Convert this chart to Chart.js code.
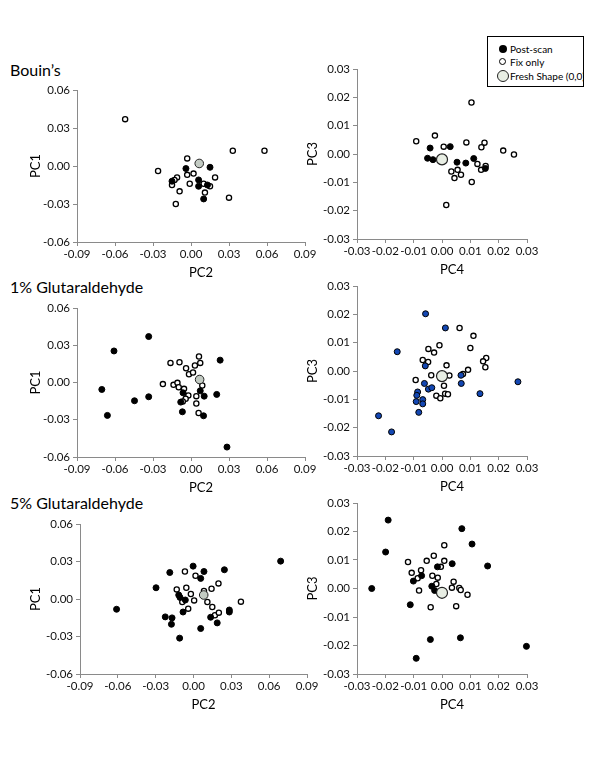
<!DOCTYPE html>
<html>
<head>
<meta charset="utf-8">
<script src="https://cdn.jsdelivr.net/npm/chart.js@4.4.0/dist/chart.umd.min.js"></script>
<style>
  body { margin: 0; background: #fff; width: 600px; height: 772px; position: relative; overflow: hidden; font-family: Lato, sans-serif; }
  canvas { position: absolute; }
  .title { position: absolute; left: 10px; font-size: 16px; line-height: 20px; color: #000; white-space: nowrap; }
  #legend { position: absolute; left: 487px; top: 36px; width: 95px; height: 49px; border: 1px solid #000; background: #fff; overflow: hidden; z-index: 5; font-size: 10px; }
  #legend .dot { position: absolute; border-radius: 50%; box-sizing: border-box; }
  #legend .txt { position: absolute; left: 22px; white-space: nowrap; line-height: 12px; color: #000; }
</style>
</head>
<body>
<div class="title" style="top:60px">Bouin’s</div>
<div class="title" style="top:277px">1% Glutaraldehyde</div>
<div class="title" style="top:493px">5% Glutaraldehyde</div>

<div id="legend">
  <div class="dot" style="left:11px; top:8px; width:8px; height:8px; background:#000;"></div>
  <div class="txt" style="top:6px">Post-scan</div>
  <div class="dot" style="left:11px; top:21px; width:7px; height:7px; background:#fff; border:1.3px solid #000;"></div>
  <div class="txt" style="top:19px">Fix only</div>
  <div class="dot" style="left:9px; top:33px; width:12px; height:12px; background:#e8eee4; border:1.2px solid #222;"></div>
  <div class="txt" style="top:33px">Fresh Shape (0,0)</div>
</div>

<canvas id="p1" width="323" height="209" style="left:2px; top:78px"></canvas>
<canvas id="p2" width="265" height="227" style="left:282px; top:57px"></canvas>
<canvas id="p3" width="323" height="206" style="left:2px; top:296px"></canvas>
<canvas id="p4" width="265" height="227" style="left:282px; top:274px"></canvas>
<canvas id="p5" width="322" height="207" style="left:5px; top:512px"></canvas>
<canvas id="p6" width="265" height="228" style="left:282px; top:491px"></canvas>

<script>
// tick labels
const ticksPC12 = [-0.09, -0.06, -0.03, 0, 0.03, 0.06, 0.09];
const ticksPC1 = [-0.06, -0.03, 0, 0.03, 0.06];
const ticksPC34 = [-0.03, -0.02, -0.01, 0, 0.01, 0.02, 0.03];

// Bouin's, PC2 (x) vs PC1 (y)
const bouinFix12 = [[-0.052,0.037],[0.033,0.012],[0.058,0.012],[-0.026,-0.004],[-0.003,0.006],[-0.003,-0.007],[0.002,-0.006],[0.019,-0.009],[-0.011,-0.009],[-0.013,-0.011],[-0.015,-0.015],[-0.001,-0.014],[-0.009,-0.020],[-0.012,-0.030],[0.010,-0.014],[0.011,-0.021],[0.015,-0.016],[0.030,-0.025]];
const bouinPost12 = [[-0.004,-0.002],[0.015,-0.001],[0.006,-0.011],[0.006,-0.016],[-0.015,-0.012],[0.010,-0.026],[0.013,-0.015]];
const bouinFresh12 = [[0.0065,0.002]];

// Bouin's, PC4 (x) vs PC3 (y)
const bouinFix34 = [[0.0104,0.0182],[-0.0025,0.0065],[-0.0091,0.0045],[0.0006,0.0026],[0.0086,0.0041],[0.015,0.004],[0.0139,0.0024],[0.0216,0.0012],[0.0254,-0.0002],[0.0125,-0.0035],[0.0154,-0.0042],[0.0138,-0.0056],[0.0033,-0.0062],[0.0055,-0.0056],[0.0067,-0.0073],[0.0044,-0.0085],[0.0105,-0.0099],[0.0015,-0.018]];
const bouinPost34 = [[-0.0042,0.0021],[0.0029,0.0026],[-0.0051,-0.0015],[-0.0032,-0.002],[0.0053,-0.0029],[0.0084,-0.0032],[0.0112,-0.0016],[0.0153,-0.0051]];
const bouinFresh34 = [[0,-0.0019]];

// 1% Glutaraldehyde, PC2 vs PC1
const glut1Fix12 = [[-0.0162,0.0158],[-0.0091,0.0163],[-0.0039,0.0115],[-0.0016,0.0067],[0.0016,0.008],[0.0031,0.0137],[0.0063,0.0209],[0.0073,0.0158],[-0.0222,-0.0013],[-0.0138,-0.0019],[-0.0107,-0.0003],[-0.0097,-0.0038],[-0.0055,-0.0051],[-0.0021,-0.0104],[-0.0042,-0.0131],[-0.0065,-0.0153],[0.0042,-0.011],[0.0042,-0.0169],[0.006,-0.0246],[0.0089,-0.0024]];
const glut1Post12 = [[-0.0334,0.037],[-0.0608,0.0254],[-0.0704,-0.0056],[-0.066,-0.0265],[-0.0446,-0.0147],[-0.0334,-0.0115],[0.023,0.018],[0.0203,-0.0096],[0.0284,-0.052],[-0.0063,-0.0083],[-0.0081,-0.0158],[-0.0068,-0.0236],[0.0073,-0.0067],[0.0104,-0.011],[0.0099,-0.0268]];
const glut1Fresh12 = [[0.0068,0.0024]];

// 1% Glutaraldehyde, PC4 vs PC3
const glut1Fix34 = [[0.0062,0.0152],[0.0111,0.0124],[0.01,0.0081],[-0.0009,0.0091],[-0.0048,0.0078],[-0.0028,0.0065],[-0.0068,0.0039],[-0.0049,0.0032],[0.0016,0.002],[0.0156,0.0046],[0.0145,0.0034],[0.0153,0.0013],[0.0092,0.0004],[0.0074,-0.0011],[-0.0093,-0.0032],[-0.0038,-0.0015],[0.0026,-0.0016],[0.0007,-0.0052],[-0.002,-0.0087],[-0.0006,-0.0096],[0.0011,-0.008],[0.0021,-0.0082]];
const glut1Post34 = [[-0.0058,0.0202],[0.0012,0.0152],[-0.0158,0.0068],[-0.0059,0.0018],[-0.0062,-0.0044],[-0.0048,-0.0064],[-0.0036,-0.0059],[-0.0086,-0.0074],[-0.0089,-0.0086],[-0.0091,-0.0108],[-0.0068,-0.0101],[-0.0068,-0.0116],[-0.0082,-0.0146],[-0.0224,-0.0158],[-0.0178,-0.0215],[0.0067,-0.0015],[0.0068,-0.0044],[0.0134,-0.008],[0.0268,-0.0038]];
const glut1Fresh34 = [[0,-0.0018]];

// 5% Glutaraldehyde, PC2 vs PC1
const glut5Fix12 = [[-0.0068,0.022],[0.0016,0.0186],[0.0198,0.0125],[-0.0133,0.0077],[-0.0057,0.009],[-0.0021,0.004],[0.0143,0.0082],[0.0083,0.0064],[-0.0089,-0.0024],[0.0005,-0.0011],[-0.0042,-0.0077],[0.011,-0.0024],[0.0149,-0.0064],[0.017,-0.013],[0.0201,-0.0109],[0.0376,-0.0021]];
const glut5Post12 = [[0.0691,0.0303],[-0.061,-0.0082],[-0.0297,0.009],[-0.0188,0.0212],[-0.0003,0.0263],[0.0083,0.022],[0.0057,0.0165],[0.0245,0.0234],[-0.0117,0.0032],[-0.0107,0.0013],[-0.0065,-0.0008],[-0.0083,-0.0104],[-0.0224,-0.0143],[-0.017,-0.0151],[-0.0175,-0.0202],[-0.011,-0.0313],[0.0057,-0.0236],[0.0136,-0.0146],[0.0188,-0.0191],[0.0284,-0.0088],[0.0284,-0.0104]];
const glut5Fresh12 = [[0.0081,0.0032]];

// 5% Glutaraldehyde, PC4 vs PC3
const glut5Fix34 = [[0.0008,0.0152],[-0.0029,0.0115],[-0.0054,0.0097],[-0.012,0.0093],[0.0008,0.0097],[-0.0004,0.0076],[-0.0107,0.0055],[-0.0074,0.0064],[-0.0086,0.0036],[-0.0034,0.0045],[-0.0015,0.0038],[-0.002,0.0016],[0.0041,0.0024],[0.0035,0.0003],[0.0061,0.0002],[0.0066,-0.0005],[0.009,-0.0022],[-0.0081,-0.0007],[0.005,-0.0062],[-0.004,-0.0066]];
const glut5Post34 = [[-0.0199,0.0128],[-0.0248,0],[0.0106,0.0156],[0.0161,0.0079],[0.0036,0.0087],[-0.0016,0.0076],[-0.0072,0.0045],[-0.0101,0.0026],[-0.0036,0.0008],[-0.0026,-0.0007],[-0.0112,-0.0057],[-0.0041,-0.0179],[0.0065,-0.0173],[-0.0091,-0.0245],[0.0298,-0.0203],[-0.019,0.024],[0.007,0.021]];
const glut5Fresh34 = [[0,-0.0015]];

const axisColor = '#8a8a8a';
const fontFamily = 'Lato, sans-serif';

function pts(arr) { return arr.map(p => ({x: p[0], y: p[1]})); }

function freshSet(arr, big) {
  return { data: pts(arr), pointRadius: big ? 5.5 : 4.3, backgroundColor: big ? '#e8eee4' : '#c3cbc3',
    borderColor: '#222', borderWidth: big ? 1.2 : 1, clip: false };
}
function postSet(arr, colour) {
  return { data: pts(arr), pointRadius: 3, backgroundColor: colour || '#000', borderColor: '#000', borderWidth: 1, clip: false };
}
function fixSet(arr) {
  return { data: pts(arr), pointRadius: 2.6, backgroundColor: '#fff', borderColor: '#000', borderWidth: 1.3, clip: false };
}

// x axis title sits a little right of the axis centre in the original
const xTitlePlugin = {
  id: 'xTitle',
  afterDraw(chart, args, opts) {
    const {ctx, chartArea} = chart;
    ctx.save();
    ctx.font = '13px ' + fontFamily;
    ctx.fillStyle = '#000';
    ctx.textAlign = 'center';
    ctx.textBaseline = 'middle';
    ctx.fillText(opts.text, (chartArea.left + chartArea.right) / 2 + opts.shift, chartArea.bottom + 31);
    ctx.restore();
  }
};

function makePanel(id, xTitle, yTitle, xTicks, yTicks, yTitlePad, datasets) {
  new Chart(document.getElementById(id), {
    type: 'scatter',
    data: { datasets: datasets },
    plugins: [xTitlePlugin],
    options: {
      responsive: false,
      animation: false,
      devicePixelRatio: 1,
      layout: { padding: { left: 0, top: 12, right: 20, bottom: 0 } },
      plugins: {
        legend: { display: false },
        tooltip: { enabled: false },
        xTitle: { text: xTitle, shift: 10 }
      },
      scales: {
        x: {
          type: 'linear',
          min: xTicks[0], max: xTicks[xTicks.length - 1],
          afterBuildTicks: s => { s.ticks = xTicks.map(v => ({ value: v })); },
          afterFit: s => { s.height = 45; },
          ticks: { callback: v => v.toFixed(2), color: '#111', font: { family: fontFamily, size: 11.5 }, padding: 1, maxRotation: 0, autoSkip: false },
          grid: { drawOnChartArea: false, tickLength: 4, color: axisColor },
          border: { color: axisColor },
          title: { display: false }
        },
        y: {
          type: 'linear',
          min: yTicks[0], max: yTicks[yTicks.length - 1],
          afterBuildTicks: s => { s.ticks = yTicks.map(v => ({ value: v })); },
          afterFit: s => { s.width = 75; },
          ticks: { callback: v => v.toFixed(2), color: '#111', font: { family: fontFamily, size: 11.5 }, padding: 3, autoSkip: false },
          grid: { drawOnChartArea: false, tickLength: 4, color: axisColor },
          border: { color: axisColor },
          title: { display: true, text: yTitle, color: '#000', font: { family: fontFamily, size: 13 }, padding: { top: yTitlePad, bottom: 0 } }
        }
      }
    }
  });
}

makePanel('p1', 'PC2', 'PC1', ticksPC12, ticksPC1, 26,
  [freshSet(bouinFresh12, false), postSet(bouinPost12), fixSet(bouinFix12)]);
makePanel('p2', 'PC4', 'PC3', ticksPC34, ticksPC34, 23,
  [freshSet(bouinFresh34, true), postSet(bouinPost34), fixSet(bouinFix34)]);
makePanel('p3', 'PC2', 'PC1', ticksPC12, ticksPC1, 26,
  [freshSet(glut1Fresh12, false), postSet(glut1Post12), fixSet(glut1Fix12)]);
makePanel('p4', 'PC4', 'PC3', ticksPC34, ticksPC34, 23,
  [freshSet(glut1Fresh34, true), postSet(glut1Post34, '#1347b3'), fixSet(glut1Fix34)]);
makePanel('p5', 'PC2', 'PC1', ticksPC12, ticksPC1, 23,
  [freshSet(glut5Fresh12, false), postSet(glut5Post12), fixSet(glut5Fix12)]);
makePanel('p6', 'PC4', 'PC3', ticksPC34, ticksPC34, 23,
  [freshSet(glut5Fresh34, true), postSet(glut5Post34), fixSet(glut5Fix34)]);
</script>
</body>
</html>
